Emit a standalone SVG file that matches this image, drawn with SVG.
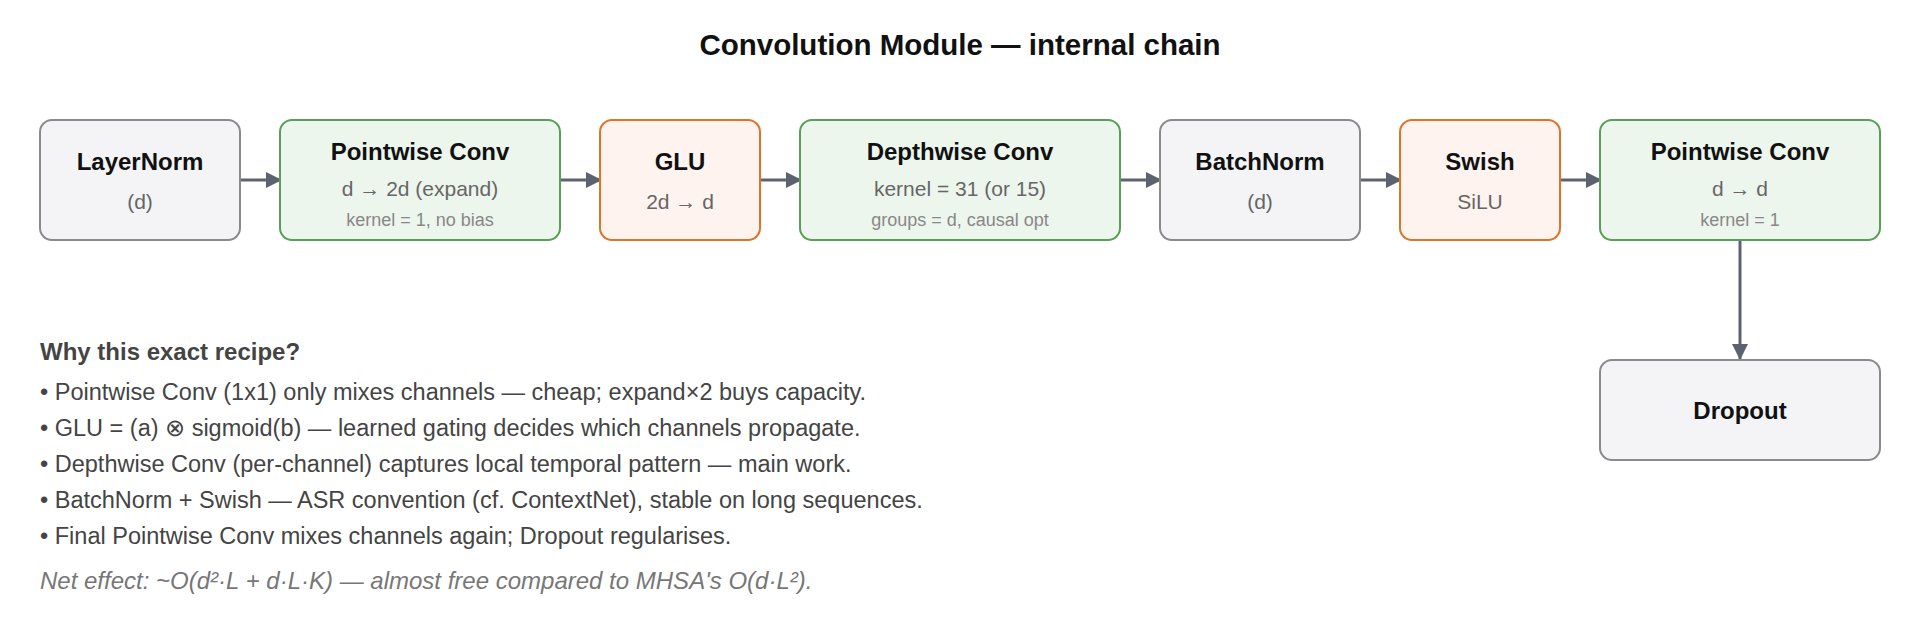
<svg xmlns="http://www.w3.org/2000/svg" width="1920" height="640" viewBox="0 0 1920 640">
<style>
text{font-family:"Liberation Sans",Arial,sans-serif}
.gray{fill:#f4f4f6;stroke:#8a8a8e;stroke-width:2}
.green{fill:#edf6ec;stroke:#5a9e5a;stroke-width:2}
.orange{fill:#fef3ef;stroke:#dd7528;stroke-width:2}
.t{font-size:24px;font-weight:bold;fill:#111;text-anchor:middle}
.s{font-size:21px;fill:#666;text-anchor:middle}
.k{font-size:18px;fill:#888;text-anchor:middle}
.b{font-size:23.5px;fill:#444}
.c{stroke:#5b6270;stroke-width:3;fill:none;marker-end:url(#ah)}
</style>
<defs><marker id="ah" markerWidth="16" markerHeight="16" refX="15" refY="8" orient="auto" markerUnits="userSpaceOnUse" viewBox="0 0 16 16"><path d="M0,0L16,8L0,16Z" fill="#5b6270"/></marker></defs>
<rect width="1920" height="640" fill="#fff"/>
<text x="960" y="55" font-size="29.5" font-weight="bold" fill="#111" text-anchor="middle">Convolution Module — internal chain</text>
<g id="connectors">
<path class="c" d="M240,180H281"/><path class="c" d="M560,180H601"/><path class="c" d="M760,180H801"/><path class="c" d="M1120,180H1161"/><path class="c" d="M1360,180H1401"/><path class="c" d="M1560,180H1601"/><path class="c" d="M1740,240V359"/>
</g>
<g id="layernorm"><rect class="gray" x="40" y="120" width="200" height="120" rx="12"/><text class="t" x="140" y="170">LayerNorm</text><text class="s" x="140" y="209">(d)</text></g>
<g id="pw1"><rect class="green" x="280" y="120" width="280" height="120" rx="12"/><text class="t" x="420" y="160">Pointwise Conv</text><text class="s" x="420" y="196">d → 2d (expand)</text><text class="k" x="420" y="226">kernel = 1, no bias</text></g>
<g id="glu"><rect class="orange" x="600" y="120" width="160" height="120" rx="12"/><text class="t" x="680" y="170">GLU</text><text class="s" x="680" y="209">2d → d</text></g>
<g id="dw"><rect class="green" x="800" y="120" width="320" height="120" rx="12"/><text class="t" x="960" y="160">Depthwise Conv</text><text class="s" x="960" y="196">kernel = 31 (or 15)</text><text class="k" x="960" y="226">groups = d, causal opt</text></g>
<g id="batchnorm"><rect class="gray" x="1160" y="120" width="200" height="120" rx="12"/><text class="t" x="1260" y="170">BatchNorm</text><text class="s" x="1260" y="209">(d)</text></g>
<g id="swish"><rect class="orange" x="1400" y="120" width="160" height="120" rx="12"/><text class="t" x="1480" y="170">Swish</text><text class="s" x="1480" y="209">SiLU</text></g>
<g id="pw2"><rect class="green" x="1600" y="120" width="280" height="120" rx="12"/><text class="t" x="1740" y="160">Pointwise Conv</text><text class="s" x="1740" y="196">d → d</text><text class="k" x="1740" y="226">kernel = 1</text></g>
<g id="dropout"><rect class="gray" x="1600" y="360" width="280" height="100" rx="12"/><text class="t" x="1740" y="419">Dropout</text></g>
<g id="notes">
<text x="40" y="360" font-size="24" font-weight="bold" fill="#444">Why this exact recipe?</text>
<text class="b" x="40" y="400">• Pointwise Conv (1x1) only mixes channels — cheap; expand×2 buys capacity.</text>
<text class="b" x="40" y="436">• GLU = (a) ⊗ sigmoid(b) — learned gating decides which channels propagate.</text>
<text class="b" x="40" y="472">• Depthwise Conv (per-channel) captures local temporal pattern — main work.</text>
<text class="b" x="40" y="508">• BatchNorm + Swish — ASR convention (cf. ContextNet), stable on long sequences.</text>
<text class="b" x="40" y="544">• Final Pointwise Conv mixes channels again; Dropout regularises.</text>
<text x="40" y="589" font-size="24" font-style="italic" fill="#777">Net effect: ~O(d²·L + d·L·K) — almost free compared to MHSA's O(d·L²).</text>
</g>
</svg>
